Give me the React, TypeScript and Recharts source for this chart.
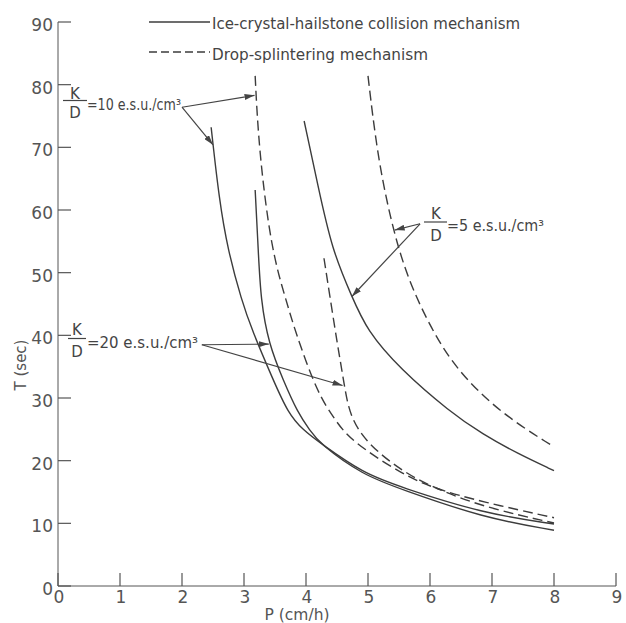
import React from 'react';
import { LineChart, Line, XAxis, YAxis, ReferenceLine } from 'recharts';

// Tick values
const xTicks = [0, 1, 2, 3, 4, 5, 6, 7, 8, 9];
const yTicks = [0, 10, 20, 30, 40, 50, 60, 70, 80, 90];

// Ice-crystal-hailstone collision mechanism (solid)
const collisionK10 = [
  { p: 2.47, t: 73.2 }, { p: 2.6, t: 61.6 }, { p: 2.74, t: 53.6 }, { p: 2.96, t: 45.6 },
  { p: 3.13, t: 40.8 }, { p: 3.47, t: 32.9 }, { p: 3.71, t: 27.6 }, { p: 3.95, t: 24.9 },
  { p: 4.23, t: 22.8 }, { p: 4.92, t: 18.0 }, { p: 5.52, t: 15.8 }, { p: 6.85, t: 11.6 },
  { p: 8.0, t: 9.9 },
];
const collisionK20 = [
  { p: 3.18, t: 63.2 }, { p: 3.23, t: 53.6 }, { p: 3.27, t: 45.6 }, { p: 3.4, t: 38.6 },
  { p: 3.63, t: 32.9 }, { p: 3.87, t: 27.6 }, { p: 4.06, t: 24.9 }, { p: 4.23, t: 22.6 },
  { p: 4.92, t: 17.7 }, { p: 5.52, t: 15.5 }, { p: 6.85, t: 10.9 }, { p: 8.0, t: 8.9 },
];
const collisionK5 = [
  { p: 3.97, t: 74.2 }, { p: 4.19, t: 64.0 }, { p: 4.42, t: 53.6 }, { p: 4.74, t: 46.2 },
  { p: 4.98, t: 40.8 }, { p: 5.52, t: 34.6 }, { p: 6.32, t: 27.8 }, { p: 6.85, t: 24.2 },
  { p: 7.4, t: 21.2 }, { p: 8.0, t: 18.4 },
];

// Drop-splintering mechanism (dashed)
const splinterK10 = [
  { p: 3.18, t: 81.4 }, { p: 3.24, t: 69.6 }, { p: 3.44, t: 53.6 }, { p: 3.68, t: 45.6 },
  { p: 3.82, t: 40.8 }, { p: 4.18, t: 30.8 }, { p: 4.47, t: 26.5 }, { p: 4.71, t: 23.3 },
  { p: 5.52, t: 18.0 }, { p: 6.05, t: 15.6 }, { p: 6.85, t: 13.4 }, { p: 8.0, t: 10.9 },
];
const splinterK20 = [
  { p: 4.29, t: 52.3 }, { p: 4.47, t: 40.8 }, { p: 4.55, t: 36.1 }, { p: 4.62, t: 31.9 },
  { p: 4.71, t: 27.0 }, { p: 4.98, t: 22.8 }, { p: 5.52, t: 18.5 }, { p: 6.03, t: 15.8 },
  { p: 6.85, t: 12.6 }, { p: 8.0, t: 10.05 },
];
const splinterK5 = [
  { p: 5.0, t: 81.4 }, { p: 5.14, t: 69.6 }, { p: 5.35, t: 58.9 }, { p: 5.62, t: 49.4 },
  { p: 6.03, t: 40.8 }, { p: 6.43, t: 34.5 }, { p: 7.13, t: 27.6 }, { p: 8.0, t: 22.2 },
];

// Annotation arrows (from label to curve), in data coordinates
const arrowsK10 = [
  [{ x: 2.0, y: 76.4 }, { x: 3.17, y: 78.3 }],
  [{ x: 2.0, y: 76.4 }, { x: 2.5, y: 70.4 }],
];
const arrowsK20 = [
  [{ x: 2.32, y: 38.5 }, { x: 3.4, y: 38.6 }],
  [{ x: 2.32, y: 38.5 }, { x: 4.59, y: 32.0 }],
];
const arrowsK5 = [
  [{ x: 5.84, y: 57.8 }, { x: 5.43, y: 56.8 }],
  [{ x: 5.84, y: 57.8 }, { x: 4.74, y: 46.2 }],
];

const INK = '#3c3c3c';
const AXIS = '#555';
const FONT = 'DejaVu Sans';
const TICK_LEN = 13;

const YTick = (props: any) => {
  const { x, y, payload } = props;
  const axisX = x + 5;
  return (
    <g>
      <line x1={axisX} y1={y} x2={axisX + TICK_LEN} y2={y} stroke={AXIS} strokeWidth={1.2} />
      <text x={x} y={y + 3} dy="0.36em" textAnchor="end" fontSize={17} fill="#555" fontFamily={FONT}>
        {payload.value}
      </text>
    </g>
  );
};

const XTick = (props: any) => {
  const { x, y, payload } = props;
  const axisY = y - 11;
  return (
    <g>
      <line x1={x} y1={axisY} x2={x} y2={axisY - TICK_LEN} stroke={AXIS} strokeWidth={1.2} />
      <text x={x + 1} y={y} dy="0.36em" textAnchor="middle" fontSize={17} fill="#555" fontFamily={FONT}>
        {payload.value}
      </text>
    </g>
  );
};

const ArrowShape = (props: any) => (
  <line
    x1={props.x1}
    y1={props.y1}
    x2={props.x2}
    y2={props.y2}
    stroke="#444"
    strokeWidth={1.2}
    markerEnd="url(#arrowHead)"
  />
);

const Fraction = ({ cx, kBase, barY, barX1, barX2, dBase, text, tx, ty, tLen }: any) => (
  <g fontFamily={FONT} fill="#444">
    <text x={cx} y={kBase} fontSize={15} textAnchor="middle">K</text>
    <line x1={barX1} y1={barY} x2={barX2} y2={barY} stroke="#444" strokeWidth={1.2} />
    <text x={cx} y={dBase} fontSize={15} textAnchor="middle">D</text>
    <text x={tx} y={ty} fontSize={15} textLength={tLen} lengthAdjust="spacingAndGlyphs">
      {text}
    </text>
  </g>
);

export default function App() {
  const lines = [
    { d: collisionK10, dash: undefined },
    { d: collisionK20, dash: undefined },
    { d: collisionK5, dash: undefined },
    { d: splinterK10, dash: '10 5' },
    { d: splinterK20, dash: '10 5' },
    { d: splinterK5, dash: '10 5' },
  ];
  const arrows = [...arrowsK10, ...arrowsK20, ...arrowsK5];
  return (
    <div style={{ position: 'absolute', left: 0, top: 0, width: 626, height: 623, background: '#fff' }}>
      <svg width={0} height={0} style={{ position: 'absolute' }}>
        <defs>
          <marker id="arrowHead" markerUnits="userSpaceOnUse" markerWidth={10} markerHeight={6} refX={10} refY={3} orient="auto">
            <path d="M0,0 L10,3 L0,6 Z" fill="#444" />
          </marker>
        </defs>
      </svg>
      <LineChart width={626} height={623} margin={{ top: 22, right: 10, bottom: 0, left: 0 }}>
        <XAxis
          type="number"
          dataKey="p"
          domain={[0, 9]}
          ticks={xTicks}
          interval={0}
          height={37}
          tickSize={0}
          tickMargin={11}
          tickLine={false}
          stroke={AXIS}
          tick={<XTick />}
          allowDataOverflow
        />
        <YAxis
          type="number"
          domain={[0, 90]}
          ticks={yTicks}
          interval={0}
          width={58}
          tickSize={0}
          tickMargin={5}
          tickLine={false}
          stroke={AXIS}
          tick={<YTick />}
          allowDataOverflow
        />
        {lines.map((l, i) => (
          <Line
            key={i}
            data={l.d}
            dataKey="t"
            type="basis"
            stroke={INK}
            strokeWidth={1.4}
            strokeDasharray={l.dash}
            dot={false}
            activeDot={false}
            isAnimationActive={false}
          />
        ))}
        {arrows.map((s, i) => (
          <ReferenceLine key={'a' + i} segment={s as any} shape={ArrowShape} ifOverflow="visible" />
        ))}
      </LineChart>
      <svg width={626} height={623} style={{ position: 'absolute', left: 0, top: 0, pointerEvents: 'none' }}>
        <g fontFamily={FONT} fill="#444">
          <line x1={149} y1={22} x2={210} y2={22} stroke={INK} strokeWidth={1.4} />
          <text x={212} y={29} fontSize={16} textLength={308} lengthAdjust="spacingAndGlyphs">
            Ice-crystal-hailstone collision mechanism
          </text>
          <line x1={149} y1={52} x2={210} y2={52} stroke={INK} strokeWidth={1.4} strokeDasharray="8 4" />
          <text x={212} y={60} fontSize={16} textLength={216} lengthAdjust="spacingAndGlyphs">
            Drop-splintering mechanism
          </text>
          <text x={297} y={620} fontSize={15.5} textAnchor="middle" fill="#555">P (cm/h)</text>
          <text transform="translate(26,365) rotate(-90)" fontSize={15} textAnchor="middle" fill="#555">T (sec)</text>
        </g>
        <Fraction cx={75} kBase={99} barY={100.5} barX1={63} barX2={87} dBase={118}
          text="=10 e.s.u./cm³" tx={87} ty={110} tLen={94} />
        <Fraction cx={77} kBase={335} barY={338.5} barX1={68} barX2={86} dBase={357}
          text="=20 e.s.u./cm³" tx={87} ty={348} tLen={111} />
        <Fraction cx={436} kBase={219} barY={222} barX1={424} barX2={447} dBase={241}
          text="=5 e.s.u./cm³" tx={447} ty={231} tLen={97} />
      </svg>
    </div>
  );
}
